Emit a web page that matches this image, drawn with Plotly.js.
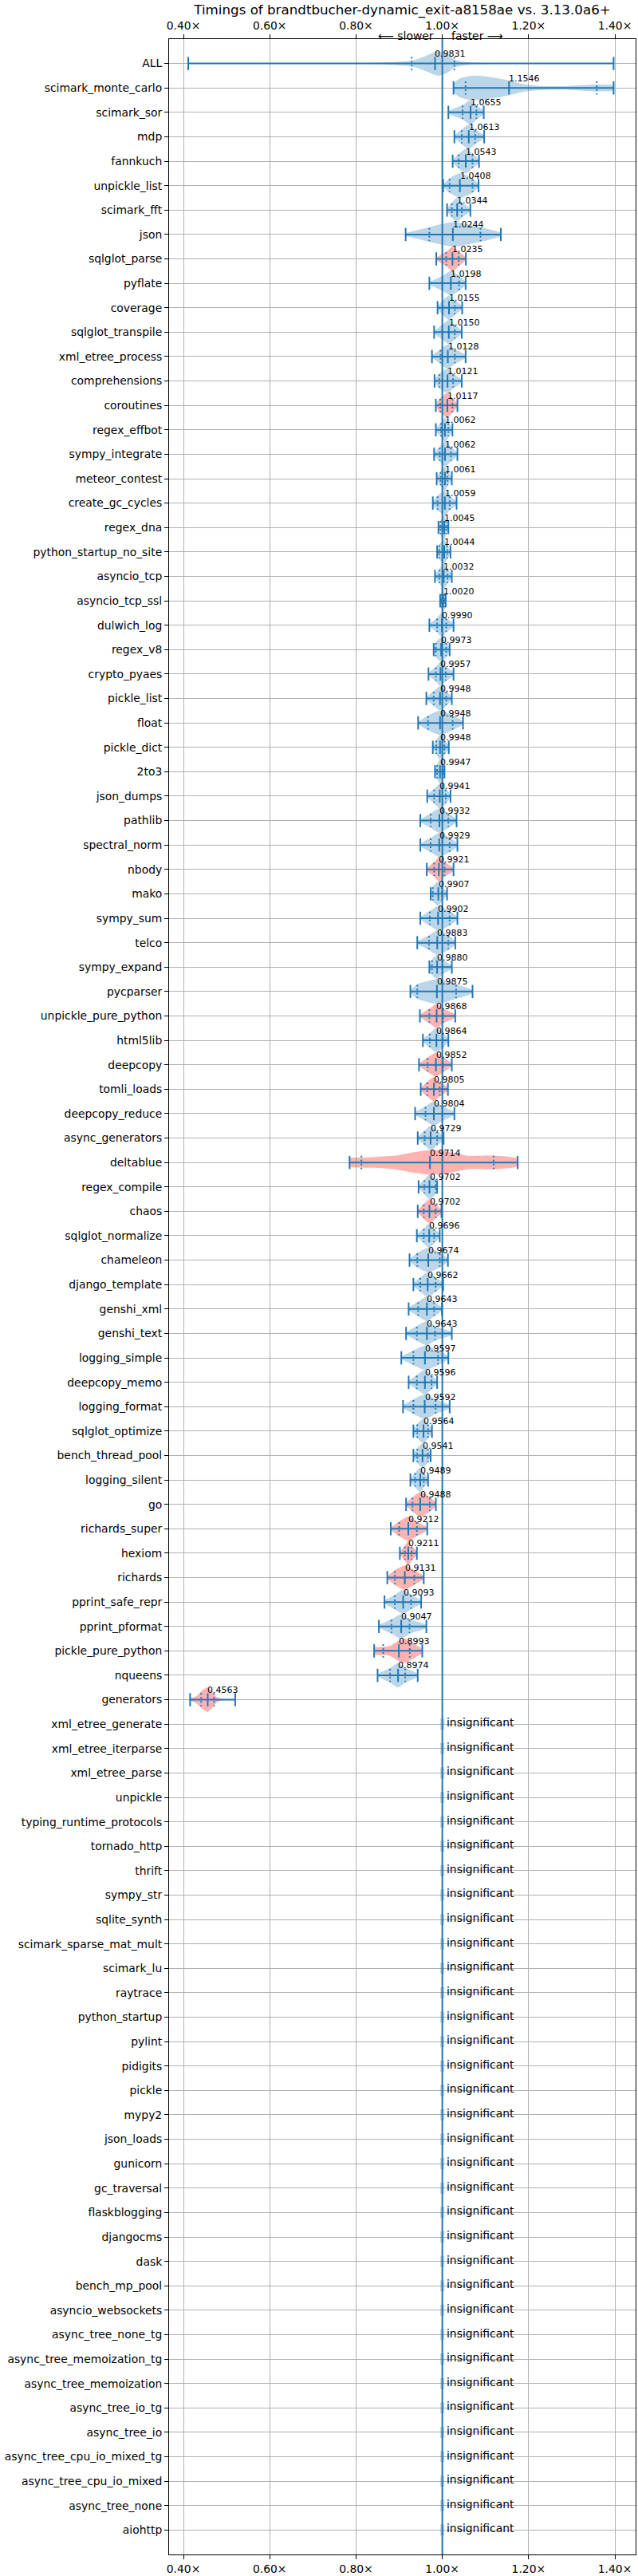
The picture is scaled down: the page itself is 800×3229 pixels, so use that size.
<!DOCTYPE html>
<html>
<head>
<meta charset="utf-8">
<script src="https://cdn.plot.ly/plotly-3.0.1.min.js"></script>
<style>body{margin:0;background:#fff}</style>
</head>
<body>
<div id="chart" style="width:800px;height:3229px"></div>
<script>
// benchmark names, top to bottom
const names = [
  'ALL', 'scimark_monte_carlo', 'scimark_sor', 'mdp', 'fannkuch', 'unpickle_list', 'scimark_fft', 'json',
  'sqlglot_parse', 'pyflate', 'coverage', 'sqlglot_transpile', 'xml_etree_process', 'comprehensions',
  'coroutines', 'regex_effbot', 'sympy_integrate', 'meteor_contest', 'create_gc_cycles', 'regex_dna',
  'python_startup_no_site', 'asyncio_tcp', 'asyncio_tcp_ssl', 'dulwich_log', 'regex_v8', 'crypto_pyaes',
  'pickle_list', 'float', 'pickle_dict', '2to3', 'json_dumps', 'pathlib', 'spectral_norm', 'nbody', 'mako',
  'sympy_sum', 'telco', 'sympy_expand', 'pycparser', 'unpickle_pure_python', 'html5lib', 'deepcopy',
  'tomli_loads', 'deepcopy_reduce', 'async_generators', 'deltablue', 'regex_compile', 'chaos',
  'sqlglot_normalize', 'chameleon', 'django_template', 'genshi_xml', 'genshi_text', 'logging_simple',
  'deepcopy_memo', 'logging_format', 'sqlglot_optimize', 'bench_thread_pool', 'logging_silent', 'go',
  'richards_super', 'hexiom', 'richards', 'pprint_safe_repr', 'pprint_pformat', 'pickle_pure_python',
  'nqueens', 'generators',
  // insignificant ones
  'xml_etree_generate', 'xml_etree_iterparse', 'xml_etree_parse', 'unpickle', 'typing_runtime_protocols',
  'tornado_http', 'thrift', 'sympy_str', 'sqlite_synth', 'scimark_sparse_mat_mult', 'scimark_lu', 'raytrace',
  'python_startup', 'pylint', 'pidigits', 'pickle', 'mypy2', 'json_loads', 'gunicorn', 'gc_traversal',
  'flaskblogging', 'djangocms', 'dask', 'bench_mp_pool', 'asyncio_websockets', 'async_tree_none_tg',
  'async_tree_memoization_tg', 'async_tree_memoization', 'async_tree_io_tg', 'async_tree_io',
  'async_tree_cpu_io_mixed_tg', 'async_tree_cpu_io_mixed', 'async_tree_none', 'aiohttp'
];

// medians (the printed numbers) for the significant benchmarks
const medians = [
  0.9831, 1.1546, 1.0655, 1.0613, 1.0543, 1.0408, 1.0344, 1.0244, 1.0235, 1.0198, 1.0155, 1.0150, 1.0128,
  1.0121, 1.0117, 1.0062, 1.0062, 1.0061, 1.0059, 1.0045, 1.0044, 1.0032, 1.0020, 0.9990, 0.9973, 0.9957,
  0.9948, 0.9948, 0.9948, 0.9947, 0.9941, 0.9932, 0.9929, 0.9921, 0.9907, 0.9902, 0.9883, 0.9880, 0.9875,
  0.9868, 0.9864, 0.9852, 0.9805, 0.9804, 0.9729, 0.9714, 0.9702, 0.9702, 0.9696, 0.9674, 0.9662, 0.9643,
  0.9643, 0.9597, 0.9596, 0.9592, 0.9564, 0.9541, 0.9489, 0.9488, 0.9212, 0.9211, 0.9131, 0.9093, 0.9047,
  0.8993, 0.8974, 0.4563
];
const mins = [
  0.411, 1.026, 1.014, 1.028, 1.024, 1.002, 1.011, 0.915, 0.986, 0.970, 0.989, 0.981, 0.976,
  0.982, 0.985, 0.985, 0.981, 0.987, 0.978, 0.991, 0.988, 0.983, 0.995, 0.970, 0.980, 0.968,
  0.963, 0.944, 0.978, 0.983, 0.965, 0.949, 0.949, 0.964, 0.973, 0.949, 0.942, 0.970, 0.926,
  0.948, 0.955, 0.946, 0.950, 0.937, 0.943, 0.785, 0.945, 0.943, 0.941, 0.924, 0.933, 0.922,
  0.916, 0.905, 0.922, 0.909, 0.933, 0.933, 0.926, 0.916, 0.8805, 0.9016, 0.8725, 0.866, 0.853,
  0.842, 0.850, 0.4154
];
const qLow = [
  0.929, 1.054, 1.047, 1.045, 1.038, 1.017, 1.022, 0.970, 1.009, 1.000, 1.001, 1.000, 0.996,
  0.993, 0.995, 0.997, 0.994, 0.996, 0.989, 0.996, 0.993, 0.993, 0.997, 0.988, 0.985, 0.985,
  0.980, 0.967, 0.986, 0.988, 0.981, 0.973, 0.973, 0.981, 0.978, 0.971, 0.969, 0.976, 0.942,
  0.970, 0.971, 0.966, 0.965, 0.961, 0.959, 0.8124, 0.9585, 0.957, 0.957, 0.942, 0.949, 0.944,
  0.941, 0.933, 0.941, 0.933, 0.942, 0.942, 0.937, 0.931, 0.900, 0.913, 0.890, 0.890, 0.882,
  0.863, 0.879, 0.441
];
const qHigh = [
  1.028, 1.358, 1.079, 1.076, 1.070, 1.070, 1.045, 1.0885, 1.038, 1.039, 1.029, 1.029, 1.029,
  1.025, 1.0235, 1.014, 1.020, 1.012, 1.017, 1.009, 1.011, 1.012, 1.006, 1.009, 1.009, 1.008,
  1.009, 1.024, 1.005, 1.001, 1.008, 1.014, 1.017, 1.005, 0.999, 1.017, 1.014, 1.000, 1.032,
  1.002, 1.001, 1.002, 0.994, 1.000, 0.988, 1.119, 0.9845, 0.9845, 0.981, 0.994, 0.9845, 0.981,
  0.983, 0.990, 0.975, 0.9845, 0.967, 0.9666, 0.957, 0.971, 0.941, 0.929, 0.935, 0.9276, 0.924,
  0.9245, 0.914, 0.471
];
const maxs = [
  1.397, 1.397, 1.096, 1.097, 1.085, 1.084, 1.065, 1.1356, 1.0545, 1.054, 1.046, 1.045, 1.054,
  1.045, 1.035, 1.0235, 1.035, 1.022, 1.033, 1.014, 1.019, 1.022, 1.008, 1.026, 1.017, 1.026,
  1.022, 1.048, 1.015, 1.005, 1.019, 1.033, 1.035, 1.026, 1.011, 1.035, 1.030, 1.022, 1.070,
  1.030, 1.014, 1.022, 1.013, 1.028, 1.003, 1.1746, 0.988, 0.998, 0.994, 1.013, 1.002, 0.999,
  1.022, 1.014, 0.988, 1.017, 0.976, 0.973, 0.967, 0.985, 0.965, 0.941, 0.957, 0.951, 0.963,
  0.9536, 0.943, 0.520
];
// 1 = drawn red
const slower = [
  0, 0, 0, 0, 0, 0, 0, 0, 1, 0, 0, 0, 0, 0, 1, 0, 0, 0, 0, 0, 0, 0, 0, 0, 0, 0, 0, 0, 0, 0, 0, 0, 0, 1,
  0, 0, 0, 0, 0, 1, 0, 1, 1, 0, 0, 1, 0, 1, 0, 0, 0, 0, 0, 0, 0, 0, 0, 0, 0, 1, 1, 1, 1, 0, 0, 1, 0, 1
];

// density outlines (x, relative half width)
const profileX = {
  ALL: [0.411, 0.80, 0.88, 0.93, 0.96, 0.99, 1.01, 1.03, 1.06, 1.12, 1.397],
  scimark_monte_carlo: [1.026, 1.04, 1.06, 1.09, 1.12, 1.155, 1.19, 1.23, 1.28, 1.33, 1.36, 1.397],
  deltablue: [0.785, 0.84, 0.89, 0.935, 0.97, 1.0, 1.03, 1.06, 1.10, 1.13, 1.1746],
  pickle_pure_python: [0.842, 0.86, 0.878, 0.895, 0.912, 0.93, 0.945, 0.9536],
  generators: [0.4154, 0.43, 0.445, 0.456, 0.466, 0.478, 0.49, 0.520]
};
const profileW = {
  ALL: [0, 0.01, 0.05, 0.12, 0.3, 0.5, 0.4, 0.15, 0.05, 0.01, 0],
  scimark_monte_carlo: [0.2, 0.38, 0.48, 0.5, 0.42, 0.3, 0.15, 0.08, 0.07, 0.12, 0.14, 0.1],
  deltablue: [0.2, 0.22, 0.28, 0.42, 0.5, 0.48, 0.38, 0.27, 0.28, 0.27, 0.15],
  pickle_pure_python: [0.15, 0.17, 0.2, 0.38, 0.5, 0.35, 0.18, 0.1],
  generators: [0.05, 0.15, 0.4, 0.5, 0.35, 0.1, 0.03, 0.01]
};

const tickVals = [0.4, 0.6, 0.8, 1.0, 1.2, 1.4];
const tickText = tickVals.map(v => v.toFixed(2) + '×');

const BLUE = '#1f77b4';
const FONT = 'DejaVu Sans';
const CAP = 0.27;
const nSig = medians.length;

const fill = { blue: { x: [], y: [] }, red: { x: [], y: [] } };
const solidX = [], solidY = [], dotX = [], dotY = [];
const annotations = [];

for (let i = 0; i < nSig; i++) {
  let px = profileX[names[i]], pw = profileW[names[i]];
  if (!px) {
    px = [mins[i], qLow[i], medians[i], qHigh[i], maxs[i]];
    pw = [0.06, 0.3, 0.5, 0.3, 0.06];
  }
  const f = slower[i] ? fill.red : fill.blue;
  for (let k = 0; k < px.length; k++) { f.x.push(px[k]); f.y.push(i - pw[k]); }
  for (let k = px.length - 1; k >= 0; k--) { f.x.push(px[k]); f.y.push(i + pw[k]); }
  f.x.push(null); f.y.push(null);

  solidX.push(mins[i], maxs[i], null); solidY.push(i, i, null);
  [mins[i], medians[i], maxs[i]].forEach(x => { solidX.push(x, x, null); solidY.push(i - CAP, i + CAP, null); });
  [qLow[i], qHigh[i]].forEach(x => { dotX.push(x, x, null); dotY.push(i - CAP, i + CAP, null); });

  annotations.push({
    x: medians[i], y: i, xref: 'x', yref: 'y', text: medians[i].toFixed(4),
    showarrow: false, xanchor: 'left', yanchor: 'middle', xshift: -2, yshift: 12,
    font: { family: FONT, size: 11, color: '#000' }
  });
}

// insignificant rows
const slivX = [], slivY = [];
for (let i = nSig; i < names.length; i++) {
  slivX.push(1, 1, null); slivY.push(i - 0.23, i + 0.23, null);
  annotations.push({
    x: 1, y: i, xref: 'x', yref: 'y', text: 'insignificant',
    showarrow: false, xanchor: 'left', yanchor: 'middle', xshift: 3, yshift: 2,
    font: { family: FONT, size: 13.9, color: '#000' }
  });
}

annotations.push(
  { x: 1, y: 1, xref: 'x', yref: 'paper', text: '⟵ slower', showarrow: false,
    xanchor: 'right', yanchor: 'middle', xshift: -9, yshift: 4, font: { family: FONT, size: 13.9, color: '#000' } },
  { x: 1, y: 1, xref: 'x', yref: 'paper', text: 'faster ⟶', showarrow: false,
    xanchor: 'left', yanchor: 'middle', xshift: 9, yshift: 4, font: { family: FONT, size: 13.9, color: '#000' } }
);

const traces = [
  { x: fill.blue.x, y: fill.blue.y, type: 'scatter', mode: 'lines', fill: 'toself',
    fillcolor: 'rgba(31,119,180,0.3)', line: { width: 0, shape: 'spline', smoothing: 0.6 }, hoverinfo: 'skip' },
  { x: fill.red.x, y: fill.red.y, type: 'scatter', mode: 'lines', fill: 'toself',
    fillcolor: 'rgba(255,0,0,0.3)', line: { width: 0, shape: 'spline', smoothing: 0.6 }, hoverinfo: 'skip' },
  { x: slivX, y: slivY, type: 'scatter', mode: 'lines', line: { color: 'rgba(31,119,180,0.3)', width: 5 }, hoverinfo: 'skip' },
  { x: solidX, y: solidY, type: 'scatter', mode: 'lines', line: { color: BLUE, width: 2 }, hoverinfo: 'skip' },
  { x: dotX, y: dotY, type: 'scatter', mode: 'lines', line: { color: BLUE, width: 2, dash: '2px,3px' }, hoverinfo: 'skip' },
  { x: [1], y: [0], xaxis: 'x2', type: 'scatter', mode: 'markers', marker: { opacity: 0 }, hoverinfo: 'skip' }
];

const xRange = [0.3667, 1.448];
const axisCommon = {
  range: xRange, tickvals: tickVals, ticktext: tickText, ticks: 'outside', ticklen: 5,
  tickwidth: 1, tickcolor: '#000', tickfont: { family: FONT, size: 13.9, color: '#000' }, zeroline: false
};

const layout = {
  width: 800, height: 3229,
  margin: { l: 212, r: 3, t: 49, b: 27 },
  paper_bgcolor: '#fff', plot_bgcolor: '#fff',
  showlegend: false,
  font: { family: FONT, color: '#000' },
  title: {
    text: 'Timings of brandtbucher-dynamic_exit-a8158ae vs. 3.13.0a6+',
    font: { family: FONT, size: 16.7, color: '#000' },
    x: 0.5, xref: 'paper', xanchor: 'center', y: 1 - 12 / 3229, yref: 'container', yanchor: 'middle'
  },
  xaxis: Object.assign({}, axisCommon, {
    showgrid: true, gridcolor: '#b0b0b0', gridwidth: 1,
    showline: true, linecolor: '#000', linewidth: 1, mirror: true
  }),
  xaxis2: Object.assign({}, axisCommon, {
    overlaying: 'x', side: 'top', anchor: 'y', showgrid: false, showline: false
  }),
  yaxis: {
    range: [102, -1], tickvals: names.map((_, i) => i), ticktext: names,
    ticks: 'outside', ticklen: 5, tickwidth: 1, tickcolor: '#000',
    tickfont: { family: FONT, size: 13.9, color: '#000' },
    showgrid: true, gridcolor: '#b0b0b0', gridwidth: 1, zeroline: false,
    showline: true, linecolor: '#000', linewidth: 1, mirror: true
  },
  shapes: [
    { type: 'line', xref: 'x', yref: 'paper', x0: 1, x1: 1, y0: 0, y1: 1, line: { color: BLUE, width: 2 } }
  ],
  annotations: annotations
};

Plotly.newPlot('chart', traces, layout, { staticPlot: true });
</script>
</body>
</html>
